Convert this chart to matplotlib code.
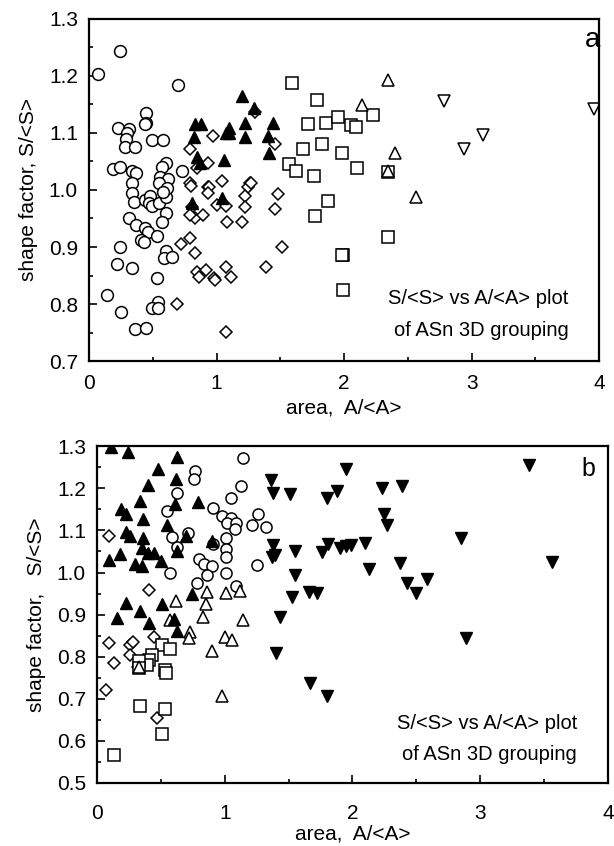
import numpy as np
import matplotlib
matplotlib.use("Agg")
import matplotlib.pyplot as plt
from matplotlib.ticker import MultipleLocator

plt.rcParams["font.family"] = ["Liberation Sans", "DejaVu Sans"]

# ---- panel a data (A/<A>, S/<S>) ----
a_circ_x = [0.07, 0.24, 0.70, 0.45, 0.45, 0.44, 0.23, 0.31, 0.30, 0.29, 0.49, 0.58,
            0.28, 0.36, 0.19, 0.24, 0.34, 0.37, 0.60, 0.57, 0.73, 0.56, 0.62, 0.55,
            0.34, 0.34, 0.35, 0.44, 0.48, 0.47, 0.49, 0.55, 0.60, 0.61, 0.58, 0.60,
            0.57, 0.31, 0.37, 0.44, 0.46, 0.41, 0.43, 0.53, 0.24, 0.22, 0.34, 0.60,
            0.59, 0.65, 0.53, 0.14, 0.25, 0.54, 0.49, 0.54, 0.36, 0.45]
a_circ_y = [1.203, 1.244, 1.183, 1.134, 1.118, 1.115, 1.108, 1.106, 1.100, 1.090,
            1.088, 1.088, 1.075, 1.076, 1.036, 1.040, 1.033, 1.029, 1.048, 1.040,
            1.034, 1.022, 1.020, 1.013, 1.012, 0.994, 0.978, 0.982, 0.990, 0.977,
            0.971, 0.977, 0.987, 1.003, 0.996, 0.959, 0.943, 0.950, 0.938, 0.933,
            0.926, 0.912, 0.908, 0.919, 0.900, 0.870, 0.863, 0.893, 0.880, 0.882,
            0.845, 0.816, 0.786, 0.803, 0.793, 0.793, 0.756, 0.758]

a_diam_x = [1.30, 0.97, 0.79, 1.46, 0.93, 0.85, 0.79, 0.80, 0.93, 1.04, 1.26, 0.94,
            0.93, 1.25, 1.27, 1.22, 1.48, 0.81, 0.83, 0.79, 0.89, 1.00, 1.07, 1.22,
            1.46, 1.08, 1.20, 0.72, 0.79, 0.83, 1.51, 1.39, 0.85, 0.92, 0.86, 0.98,
            0.99, 1.07, 1.11, 0.69, 1.07]
a_diam_y = [1.136, 1.094, 1.071, 1.081, 1.047, 1.038, 1.012, 1.007, 1.006, 1.015,
            1.012, 1.005, 0.994, 1.006, 1.012, 0.989, 0.992, 0.970, 0.950, 0.956,
            0.956, 0.973, 0.971, 0.970, 0.966, 0.943, 0.943, 0.905, 0.915, 0.889,
            0.900, 0.865, 0.856, 0.859, 0.847, 0.845, 0.842, 0.865, 0.847, 0.800,
            0.751]

a_ftri_x = [1.20, 1.29, 0.83, 0.88, 1.22, 1.44, 1.10, 1.07, 1.10, 0.82, 1.22, 1.40,
            0.85, 0.87, 1.41, 1.06, 0.81, 1.04]
a_ftri_y = [1.164, 1.144, 1.115, 1.116, 1.118, 1.118, 1.109, 1.099, 1.099, 1.092,
            1.092, 1.095, 1.057, 1.048, 1.064, 1.052, 0.977, 0.985]

a_sq_x = [1.59, 1.79, 1.72, 1.86, 1.95, 2.05, 1.68, 1.83, 1.98, 1.57, 1.62, 1.76,
          2.23, 2.09, 2.10, 2.34, 1.87, 1.77, 1.99, 1.98, 1.99, 2.34]
a_sq_y = [1.188, 1.158, 1.116, 1.118, 1.127, 1.113, 1.071, 1.080, 1.064, 1.045,
          1.034, 1.024, 1.132, 1.111, 1.038, 1.031, 0.980, 0.954, 0.886, 0.886,
          0.825, 0.917]

a_otri_x = [2.34, 2.14, 2.40, 2.34, 2.56]
a_otri_y = [1.193, 1.148, 1.064, 1.033, 0.987]

a_dtri_x = [2.78, 3.96, 3.09, 2.94]
a_dtri_y = [1.155, 1.141, 1.097, 1.071]

# ---- panel b data ----
b_ftri_x = [0.11, 0.24, 0.63, 0.48, 0.62, 0.40, 0.34, 0.61, 0.79, 0.19, 0.23, 0.36,
            0.55, 0.23, 0.26, 0.36, 0.70, 0.90, 0.35, 0.40, 0.45, 0.50, 0.63, 0.09,
            0.18, 0.30, 0.35, 0.74, 0.23, 0.34, 0.51, 0.16, 0.41, 0.60, 0.63]
b_ftri_y = [1.298, 1.286, 1.274, 1.245, 1.222, 1.207, 1.169, 1.162, 1.167, 1.150,
            1.138, 1.127, 1.112, 1.096, 1.086, 1.081, 1.086, 1.074, 1.058, 1.046,
            1.046, 1.027, 1.051, 1.029, 1.043, 1.020, 1.015, 0.948, 0.927, 0.908,
            0.925, 0.891, 0.880, 0.889, 0.861]

b_circ_x = [1.14, 0.77, 0.76, 1.13, 0.63, 1.05, 0.55, 0.91, 0.98, 1.05, 1.02, 1.09,
            1.08, 1.26, 1.21, 1.32, 0.71, 0.59, 0.63, 0.91, 1.01, 1.01, 1.01, 0.80,
            0.84, 0.90, 0.86, 1.25, 0.57, 1.01, 0.78, 1.09]
b_circ_y = [1.271, 1.241, 1.222, 1.205, 1.190, 1.177, 1.146, 1.153, 1.134, 1.129,
            1.117, 1.117, 1.103, 1.138, 1.112, 1.108, 1.093, 1.084, 1.060, 1.067,
            1.081, 1.055, 1.036, 1.032, 1.020, 1.015, 0.994, 1.017, 1.000, 0.998,
            0.975, 0.967]

b_diam_x = [0.09, 0.41, 0.09, 0.26, 0.28, 0.45, 0.26, 0.13, 0.32, 0.07, 0.47]
b_diam_y = [1.086, 0.958, 0.832, 0.827, 0.834, 0.846, 0.804, 0.785, 0.775, 0.720,
            0.654]

b_sq_x = [0.51, 0.57, 0.43, 0.41, 0.39, 0.33, 0.33, 0.53, 0.54, 0.34, 0.53, 0.51,
          0.13]
b_sq_y = [0.827, 0.818, 0.804, 0.792, 0.780, 0.789, 0.773, 0.768, 0.761, 0.682,
          0.675, 0.616, 0.566]

b_otri_x = [0.86, 1.01, 1.12, 0.62, 0.85, 0.83, 1.14, 0.57, 0.73, 0.72, 1.00, 1.06,
            0.90, 0.33, 0.98]
b_otri_y = [0.953, 0.951, 0.956, 0.932, 0.925, 0.894, 0.887, 0.887, 0.858, 0.844,
            0.846, 0.839, 0.813, 0.775, 0.706]

b_dtri_x = [1.95, 1.36, 1.38, 1.51, 1.80, 1.88, 1.38, 1.37, 1.39, 1.55, 1.76, 1.81,
            1.90, 1.95, 1.99, 1.55, 1.53, 1.66, 1.72, 1.43, 2.23, 2.39, 3.38, 2.25,
            2.27, 2.85, 2.10, 2.13, 2.37, 2.43, 2.58, 2.50, 3.56, 1.40, 1.67, 1.80,
            2.89]
b_dtri_y = [1.245, 1.219, 1.188, 1.186, 1.176, 1.193, 1.065, 1.036, 1.041, 1.051,
            1.049, 1.067, 1.058, 1.062, 1.065, 0.994, 0.941, 0.953, 0.951, 0.894,
            1.200, 1.205, 1.255, 1.138, 1.112, 1.081, 1.070, 1.008, 1.022, 0.975,
            0.984, 0.951, 1.024, 0.808, 0.737, 0.706, 0.844]

fig = plt.figure(figsize=(6.14, 8.46), dpi=100)
ax1 = fig.add_axes([0.145, 0.573, 0.831, 0.405])
ax2 = fig.add_axes([0.158, 0.0745, 0.832, 0.398])

op = dict(linestyle="none", mfc="white", mec="black", mew=1.1)
fl = dict(linestyle="none", mfc="black", mec="black", mew=1.0)

# panel a
ax1.plot(a_circ_x, a_circ_y, "o", ms=8.5, **op)
ax1.plot(a_diam_x, a_diam_y, "D", ms=6.5, **op)
ax1.plot(a_sq_x, a_sq_y, "s", ms=8.0, **op)
ax1.plot(a_otri_x, a_otri_y, "^", ms=8.0, **op)
ax1.plot(a_dtri_x, a_dtri_y, "v", ms=9.0, **op)
ax1.plot(a_ftri_x, a_ftri_y, "^", ms=8.5, **fl)

# panel b
ax2.plot(b_circ_x, b_circ_y, "o", ms=8.0, **op)
ax2.plot(b_diam_x, b_diam_y, "D", ms=6.0, **op)
ax2.plot(b_sq_x, b_sq_y, "s", ms=8.0, **op)
ax2.plot(b_otri_x, b_otri_y, "^", ms=8.0, **op)
ax2.plot(b_ftri_x, b_ftri_y, "^", ms=8.0, **fl)
ax2.plot(b_dtri_x, b_dtri_y, "v", ms=8.5, **fl)

ax1.set_xlim(0, 4)
ax1.set_ylim(0.7, 1.3)
ax2.set_xlim(0, 4)
ax2.set_ylim(0.5, 1.3)

for ax in (ax1, ax2):
    ax.xaxis.set_major_locator(MultipleLocator(1))
    ax.xaxis.set_minor_locator(MultipleLocator(0.5))
    ax.yaxis.set_major_locator(MultipleLocator(0.1))
    ax.yaxis.set_minor_locator(MultipleLocator(0.05))
    ax.yaxis.set_major_formatter(plt.FormatStrFormatter("%.1f"))
    ax.tick_params(which="both", direction="in", top=False, right=False,
                   labelsize=15, width=1.2)
    ax.tick_params(which="major", length=6)
    ax.tick_params(which="minor", length=3)
    for s in ax.spines.values():
        s.set_linewidth(1.6)

ax1.tick_params(axis="x", which="major", pad=9)
ax1.tick_params(axis="y", which="major", pad=8)
ax2.tick_params(axis="x", which="major", pad=15)
ax2.tick_params(axis="y", which="major", pad=8)

ax1.set_xlabel("area,  A/<A>", fontsize=15, labelpad=4)
ax1.set_ylabel("shape factor, S/<S>", fontsize=15, labelpad=8)
ax2.set_xlabel("area,  A/<A>", fontsize=15, labelpad=1)
ax2.set_ylabel("shape factor,   S/<S>", fontsize=15, labelpad=8)

ax1.text(3.76, 0.81, "S/<S> vs A/<A> plot", fontsize=14.5, ha="right", va="center")
ax1.text(3.76, 0.753, "of ASn 3D grouping", fontsize=14.5, ha="right", va="center")
ax2.text(3.76, 0.642, "S/<S> vs A/<A> plot", fontsize=14.5, ha="right", va="center")
ax2.text(3.76, 0.568, "of ASn 3D grouping", fontsize=14.5, ha="right", va="center")

ax1.text(3.95, 1.262, "a", fontsize=20, ha="center", va="center")
ax2.text(3.85, 1.245, "b", fontsize=18, ha="center", va="center")

fig.savefig("out.png", dpi=100)
